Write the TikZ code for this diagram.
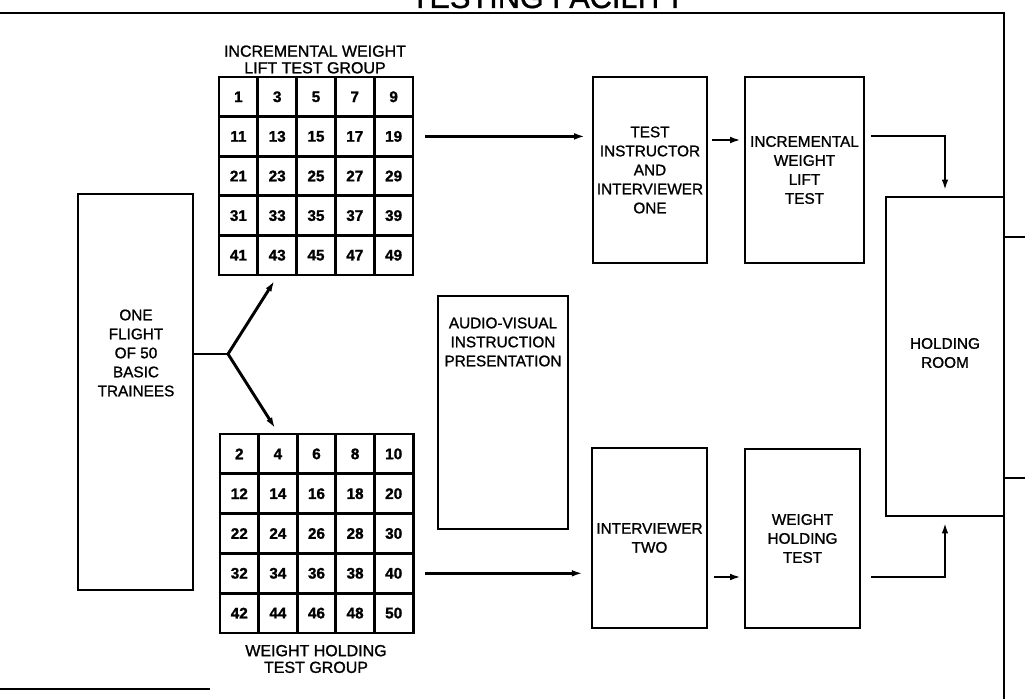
\documentclass[tikz,border=0pt]{standalone}
\usepackage{fontspec}
\setmainfont{Liberation Sans}[FakeBold=1.2]
\usetikzlibrary{arrows.meta}
\begin{document}
\begin{tikzpicture}[x=0.75pt,y=-0.75pt,
  ln/.style={line width=2.2pt},
  box/.style={draw,line width=2.2pt,inner sep=0pt},
  cell/.style={draw,line width=2.2pt,inner sep=0pt,font=\fontsize{11.5}{12}\selectfont\bfseries},
  txt/.style={align=center,font=\fontsize{11.5}{14.25}\selectfont\addfontfeature{FakeBold=1.2}},
  lbl/.style={align=center,font=\fontsize{12}{12.5}\selectfont\addfontfeature{FakeBold=1.2}},
  arr/.style={line width=2.2pt,-{Latex[length=8pt,width=5pt]}},
]
\useasboundingbox (0,0) rectangle (1025,699);
% title and frame
\node[font=\fontsize{23}{23}\selectfont\addfontfeature{FakeBold=1.2},anchor=base] (title) at (548,8) {TESTING FACILITY};
\coordinate (tl) at (0,13);
\coordinate (tr) at (1004,13);
\coordinate (br) at (1004,699);
\draw[ln] (tl) -- (tr) -- (br);
\coordinate (bl1) at (0,689);
\coordinate (bl2) at (210,689);
\draw[line width=1.5pt] (bl1) -- (bl2);
% left box
\node[box,minimum width=86.25pt,minimum height=297pt] (flight) at (135.5,392) {};
\node[txt] (flighttext) at (136,353) {ONE\\FLIGHT\\OF 50\\BASIC\\TRAINEES};
% grids
\foreach \i in {1,...,5}{
  \foreach \j in {1,...,5}{
    \pgfmathtruncatemacro\na{10*(\i-1)+2*\j-1}
    \pgfmathtruncatemacro\nb{10*(\i-1)+2*\j}
    \node[cell,minimum width=29.1pt,minimum height=29.7pt] (a\i\j) at ({219+38.8*(\j-0.5)},{77+39.6*(\i-0.5)}) {\na};
    \node[cell,minimum width=29pt,minimum height=29.85pt] (b\i\j) at ({220+38.6*(\j-0.5)},{434+39.8*(\i-0.5)}) {\nb};
  }
}
\node[lbl] (alabel) at (315,59.5) {INCREMENTAL WEIGHT\\LIFT TEST GROUP};
\node[lbl] (blabel) at (316,659) {WEIGHT HOLDING\\TEST GROUP};
% fork
\coordinate (fork) at (228,354);
\draw[ln] (fork -| flight.east) -- (fork);
\draw[arr,shorten >=4pt] (fork) -- (a52.south);
\draw[arr,shorten >=4pt] (fork) -- (b12.north);
% middle boxes
\node[box,minimum width=97.5pt,minimum height=174.75pt] (av) at (503,412.5) {};
\node[txt] (avtext) at (503,342) {AUDIO-VISUAL\\INSTRUCTION\\PRESENTATION};
\node[box,minimum width=85.5pt,minimum height=139.5pt,txt] (box1) at (650,170) {TEST\\INSTRUCTOR\\AND\\INTERVIEWER\\ONE};
\node[box,minimum width=89.25pt,minimum height=139.5pt,txt] (box2) at (804.5,170) {INCREMENTAL\\WEIGHT\\LIFT\\TEST};
\node[box,minimum width=86.25pt,minimum height=135pt,txt] (box3) at (649.5,538) {INTERVIEWER\\TWO};
\node[box,minimum width=86.25pt,minimum height=134.25pt,txt] (box4) at (802.5,538.5) {WEIGHT\\HOLDING\\TEST};
\node[box,minimum width=88.5pt,minimum height=239.25pt] (holding) at (945,356.5) {};
\node[txt] (holdtext) at (945,353) {HOLDING\\ROOM};
% side stubs
\coordinate (s1) at (1025,237);
\coordinate (s2) at (1025,478);
\draw[ln] (s1 -| br) -- (s1);
\draw[ln] (s2 -| br) -- (s2);
% connectors
\coordinate (u2) at (0,140);
\coordinate (u3) at (0,136);
\coordinate (l2) at (0,577);
\draw[arr,shorten <=8pt,shorten >=5pt] (a25.east) -- (a25.east -| box1.west);
\draw[arr,shorten <=3pt,shorten >=2pt] (box1.east |- u2) -- (box2.west |- u2);
\draw[arr,shorten <=4pt,shorten >=4pt] (box2.east |- u3) -| (holding.north);
\draw[arr,shorten <=8pt,shorten >=6pt] (b45.east) -- (b45.east -| box3.west);
\draw[arr,shorten <=4pt,shorten >=2pt] (box3.east |- l2) -- (box4.west |- l2);
\draw[arr,shorten <=7pt,shorten >=4pt] (box4.east |- l2) -| (holding.south);
\end{tikzpicture}
\end{document}
